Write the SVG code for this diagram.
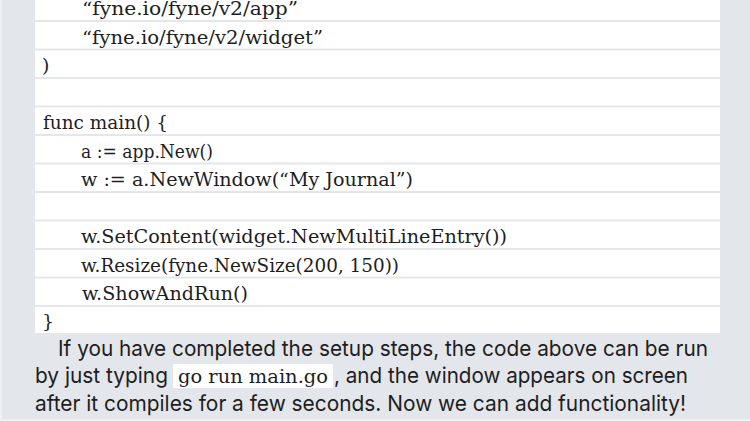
<svg xmlns="http://www.w3.org/2000/svg" width="750" height="421" viewBox="0 0 750 421">
<style>
.code{font-family:"DejaVu Serif","Liberation Serif",serif;font-size:19px;fill:#1e1e1e}
.body{font-family:Inter,"Liberation Sans",sans-serif;font-size:22px;fill:#1e1e1e}
.sep{stroke:#e4e7ea;stroke-width:2}
</style>
<rect x="0" y="0" width="750" height="421" fill="#e3e6ea"/>
<rect x="0" y="0" width="2" height="421" fill="#eef0f2"/>
<rect x="0" y="419" width="750" height="2" fill="#eef0f2"/>
<g id="code-block">
<rect x="35" y="0" width="685" height="333" fill="#ffffff"/>
<g id="separators">
<line class="sep" x1="35" y1="21" x2="720" y2="21"/>
<line class="sep" x1="35" y1="49.5" x2="720" y2="49.5"/>
<line class="sep" x1="35" y1="78" x2="720" y2="78"/>
<line class="sep" x1="35" y1="106.5" x2="720" y2="106.5"/>
<line class="sep" x1="35" y1="135" x2="720" y2="135"/>
<line class="sep" x1="35" y1="163.5" x2="720" y2="163.5"/>
<line class="sep" x1="35" y1="192" x2="720" y2="192"/>
<line class="sep" x1="35" y1="220.5" x2="720" y2="220.5"/>
<line class="sep" x1="35" y1="249" x2="720" y2="249"/>
<line class="sep" x1="35" y1="277.5" x2="720" y2="277.5"/>
<line class="sep" x1="35" y1="306" x2="720" y2="306"/>
</g>
<text class="code" x="82" y="15" textLength="216" lengthAdjust="spacingAndGlyphs">“fyne.io/fyne/v2/app”</text>
<text class="code" x="82" y="43.5" textLength="241" lengthAdjust="spacingAndGlyphs">“fyne.io/fyne/v2/widget”</text>
<text class="code" x="42" y="72">)</text>
<text class="code" x="43" y="129" textLength="125" lengthAdjust="spacingAndGlyphs">func main() {</text>
<text class="code" x="81" y="157.5" textLength="132" lengthAdjust="spacingAndGlyphs">a := app.New()</text>
<text class="code" x="81" y="186" textLength="332" lengthAdjust="spacingAndGlyphs">w := a.NewWindow(“My Journal”)</text>
<text class="code" x="81" y="243" textLength="426" lengthAdjust="spacingAndGlyphs">w.SetContent(widget.NewMultiLineEntry())</text>
<text class="code" x="81" y="271.5" textLength="318" lengthAdjust="spacingAndGlyphs">w.Resize(fyne.NewSize(200, 150))</text>
<text class="code" x="82" y="300" textLength="166" lengthAdjust="spacingAndGlyphs">w.ShowAndRun()</text>
<text class="code" x="42" y="328">}</text>
</g>
<g id="paragraph">
<text class="body" x="58" y="356" textLength="650" lengthAdjust="spacingAndGlyphs">If you have completed the setup steps, the code above can be run</text>
<text class="body" x="35" y="383" textLength="133" lengthAdjust="spacingAndGlyphs">by just typing</text>
<rect x="173" y="364" width="160" height="24" fill="#ffffff"/>
<text class="code" x="178" y="383" textLength="150" lengthAdjust="spacingAndGlyphs">go run main.go</text>
<text class="body" x="334" y="383" textLength="354" lengthAdjust="spacingAndGlyphs">, and the window appears on screen</text>
<text class="body" x="35" y="411" textLength="651" lengthAdjust="spacingAndGlyphs">after it compiles for a few seconds. Now we can add functionality!</text>
</g>
</svg>
